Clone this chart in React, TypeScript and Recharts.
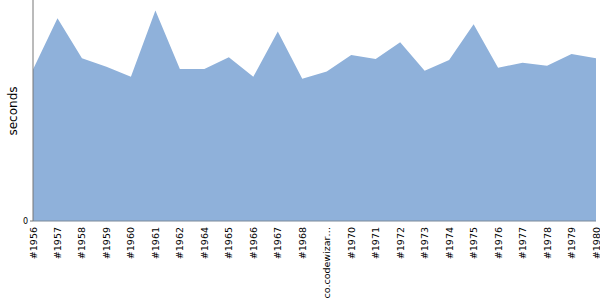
import React from 'react';
import { AreaChart, Area, XAxis, YAxis } from 'recharts';

const categories = [
  '#1956', '#1957', '#1958', '#1959', '#1960', '#1961', '#1962', '#1964',
  '#1965', '#1966', '#1967', '#1968', 'co.codewizar…', '#1970', '#1971', '#1972',
  '#1973', '#1974', '#1975', '#1976', '#1977', '#1978', '#1979', '#1980',
];

const seconds = [
  68.6, 91.7, 73.6, 69.8, 65.3, 95.2, 68.8, 68.8,
  74.1, 65.3, 85.7, 64.4, 67.6, 75.1, 73.3, 80.9,
  68.0, 72.9, 89.0, 69.4, 71.6, 70.3, 75.6, 73.6,
];

const yTicks = [0];

const data = categories.map((name, i) => ({ name, seconds: seconds[i] }));

const XTick = (props: any) => {
  const { x, y, payload } = props;
  return (
    <text
      x={x}
      y={y}
      transform={`rotate(-90, ${x}, ${y})`}
      textAnchor="end"
      dominantBaseline="central"
      fontSize={9.5}
      fontFamily="DejaVu Sans"
      fill="#000"
    >
      {payload.value}
    </text>
  );
};

const YLabel = () => (
  <text
    x={12.5}
    y={111}
    transform="rotate(-90, 12.5, 111)"
    textAnchor="middle"
    dominantBaseline="central"
    fontSize={12}
    fontFamily="DejaVu Sans"
    fill="#000"
  >
    seconds
  </text>
);

export default function App() {
  return (
    <div style={{ position: 'absolute', left: 0, top: 0, width: 600, height: 300 }}>
      <AreaChart
        width={600}
        height={300}
        data={data}
        margin={{ top: 0, right: 4, bottom: 0, left: 0 }}
      >
        <XAxis
          dataKey="name"
          interval={0}
          height={79}
          tickLine={false}
          tickSize={6}
          tickMargin={0}
          axisLine={{ stroke: '#7d8a9a' }}
          tick={<XTick />}
        />
        <YAxis
          width={33}
          domain={[0, 100]}
          ticks={yTicks}
          tickSize={3}
          tickMargin={2}
          axisLine={{ stroke: '#777' }}
          tickLine={{ stroke: '#777' }}
          tick={{ fontSize: 8, fontFamily: 'DejaVu Sans', fill: '#000' }}
          label={<YLabel />}
        />
        <Area
          type="linear"
          dataKey="seconds"
          stroke="none"
          fill="#8fb1da"
          fillOpacity={1}
          isAnimationActive={false}
        />
      </AreaChart>
    </div>
  );
}
